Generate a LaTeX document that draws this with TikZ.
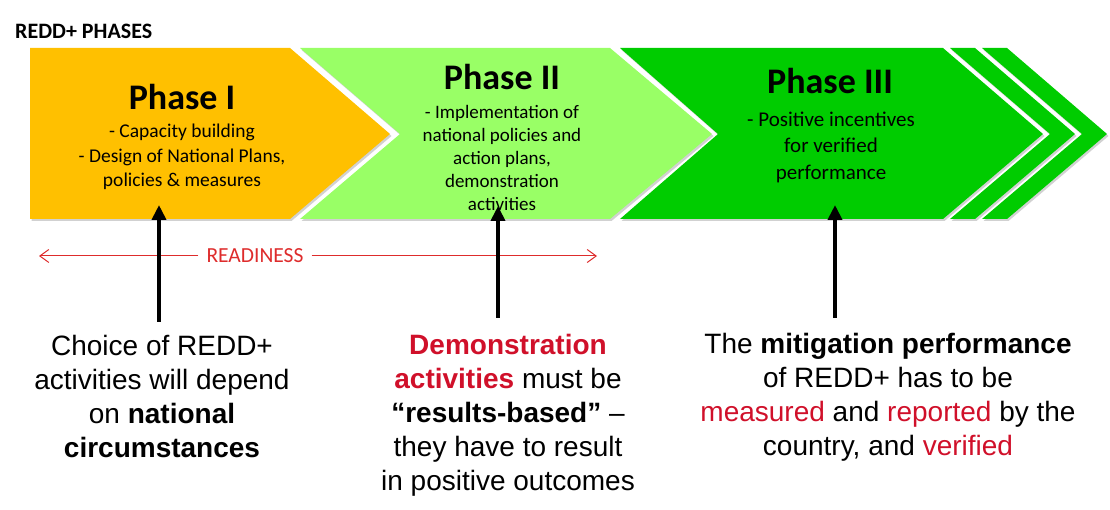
\documentclass[tikz,border=0pt]{standalone}
\usepackage{fontspec}
\setmainfont{Carlito}
\newfontfamily\arialfont{Liberation Sans}
\usetikzlibrary{arrows.meta}
\definecolor{phaseyellow}{RGB}{255,192,0}
\definecolor{phaselight}{RGB}{153,255,102}
\definecolor{phasegreen}{RGB}{0,204,0}
\definecolor{reddred}{RGB}{208,16,42}
\definecolor{readyred}{RGB}{222,44,44}

\tikzset{
  chevshadow/.style={fill=black!18, xshift=1.5pt, yshift=-2pt},
  phasetitle/.style={font=\bfseries\fontsize{36}{40}\selectfont, anchor=base, inner sep=0pt},
  phasebody/.style={font=\fontsize{19.5}{24.5}\selectfont, align=center, inner sep=0pt},
  note/.style={font=\arialfont\fontsize{28}{34}\selectfont, align=center, inner sep=0pt},
  pointer/.style={line width=4pt, -{Triangle[width=14pt,length=15pt]}},
  readyline/.style={readyred, line width=1pt, -{Straight Barb[length=9pt,width=13pt]}},
}

\begin{document}
\begin{tikzpicture}[x=1pt, y=-1pt]
  \useasboundingbox (0,0) rectangle (1110,510);

  % Heading
  \node[anchor=base west, inner sep=0pt, font=\bfseries\fontsize{22}{24}\selectfont] (heading) at (15,39) {REDD+ PHASES};

  % Phase I chevron
  \fill[chevshadow] (30,48) -- (290,48) -- (390,134) -- (290,219) -- (30,219) -- cycle;
  \fill[phaseyellow] (30,48) -- (290,48) -- (390,134) -- (290,219) -- (30,219) -- cycle;

  % Phase II chevron
  \fill[chevshadow] (300,48) -- (610,48) -- (712,134) -- (610,219) -- (300,219) -- (400,134) -- cycle;
  \fill[phaselight] (300,48) -- (610,48) -- (712,134) -- (610,219) -- (300,219) -- (400,134) -- cycle;

  % Phase III chevron and the two trailing bands
  \fill[chevshadow] (620,48) -- (943,48) -- (1043,134) -- (943,219) -- (620,219) -- (718,134) -- cycle;
  \fill[phasegreen] (620,48) -- (943,48) -- (1043,134) -- (943,219) -- (620,219) -- (718,134) -- cycle;
  \fill[chevshadow] (950,48) -- (975,48) -- (1075,134) -- (975,219) -- (950,219) -- (1050,134) -- cycle;
  \fill[phasegreen] (950,48) -- (975,48) -- (1075,134) -- (975,219) -- (950,219) -- (1050,134) -- cycle;
  \fill[chevshadow] (982,48) -- (1007,48) -- (1107,134) -- (1007,219) -- (982,219) -- (1082,134) -- cycle;
  \fill[phasegreen] (982,48) -- (1007,48) -- (1107,134) -- (1007,219) -- (982,219) -- (1082,134) -- cycle;

  % Phase labels
  \node[phasetitle] (t1) at (182,110) {Phase I};
  \node[phasebody] (b1) at (182,157) {- Capacity building\\- Design of National Plans,\\policies \& measures};
  \node[phasetitle] (t2) at (502,90) {Phase II};
  \node[phasebody, font=\fontsize{19}{22.8}\selectfont] (b2) at (502,158) {- Implementation of\\national policies and\\action plans,\\demonstration\\activities};
  \node[phasetitle] (t3) at (830,94) {Phase III};
  \node[phasebody, font=\fontsize{21}{26.5}\selectfont] (b3) at (831,147) {- Positive incentives\\for verified\\performance};

  % Readiness span
  \node[text=readyred, font=\fontsize{21.5}{24}\selectfont, inner sep=8pt] (ready) at (255,256) {READINESS};
  \coordinate (rleft) at (39,256);
  \coordinate (rright) at (597,256);
  \draw[readyline] (ready.west) -- (rleft);
  \draw[readyline] (ready.east) -- (rright);

  % Notes below
  \node[note] (choice) at (162,396) {Choice of REDD+\\activities will depend\\on \textbf{national}\\\textbf{circumstances}};
  \node[note] (demo) at (508,415) {\textcolor{reddred}{\textbf{Demonstration}}\\\textcolor{reddred}{\textbf{activities}} must be\\\textbf{“results-based”} –\\they have to result\\in positive outcomes};
  \node[note] (mitig) at (888,397) {The \textbf{mitigation performance}\\of REDD+ has to be\\\textcolor{reddred}{measured} and \textcolor{reddred}{reported} by the\\country, and \textcolor{reddred}{verified}};

  % Pointers up into the phases
  \coordinate (p1in) at (159,205);
  \coordinate (p2in) at (498,206);
  \coordinate (p3in) at (835,205);
  \draw[pointer, shorten <=13pt] (p1in |- choice.north) -- (p1in);
  \draw[pointer, shorten <=16pt] (p2in |- demo.north) -- (p2in);
  \draw[pointer, shorten <=15pt] (p3in |- mitig.north) -- (p3in);
\end{tikzpicture}
\end{document}
